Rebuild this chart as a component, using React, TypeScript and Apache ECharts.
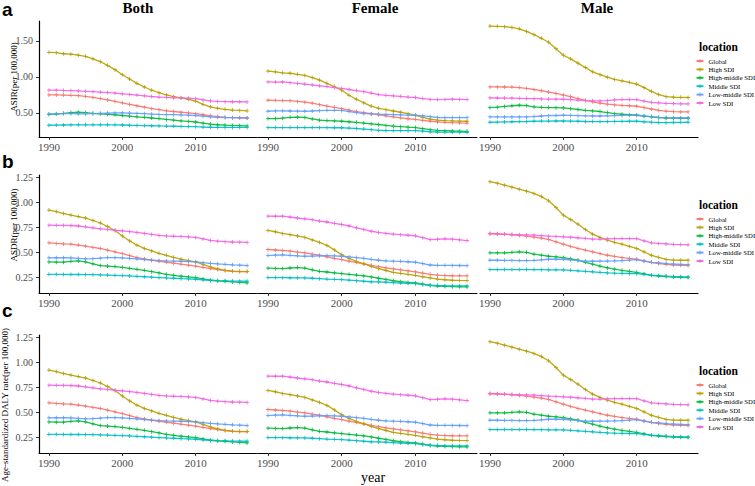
import React, { useEffect, useRef } from "react";
import * as echarts from "echarts";

const years = [1990,1991,1992,1993,1994,1995,1996,1997,1998,1999,2000,2001,2002,2003,2004,2005,2006,2007,2008,2009,2010,2011,2012,2013,2014,2015,2016,2017];
const locations = ["Global", "High SDI", "High-middle SDI", "Middle SDI", "Low-middle SDI", "Low SDI"];
const colors = ["#F8766D", "#B79F00", "#00BA38", "#00BFC4", "#619CFF", "#F564E3"];
const columnTitles = ["Both", "Female", "Male"];
const rowLetters = ["a", "b", "c"];
const rowTitles = ["ASIR(per 100,000)", "ASDR(per 100,000)", "Age-standardized DALY rate(per 100,000)"];
const xTicks = [1990, 2000, 2010];
const yTicksA = [0.5, 1.0, 1.5];
const yTicksB = [0.25, 0.5, 0.75, 1.0, 1.25];

// ASIR, order: Global, High SDI, High-middle SDI, Middle SDI, Low-middle SDI, Low SDI
const asirBoth = [
  [0.75,0.75,0.748,0.745,0.74,0.73,0.715,0.70,0.68,0.66,0.64,0.62,0.60,0.58,0.56,0.545,0.53,0.52,0.51,0.50,0.49,0.475,0.46,0.45,0.44,0.435,0.432,0.43],
  [1.34,1.335,1.32,1.315,1.30,1.285,1.25,1.21,1.16,1.10,1.03,0.97,0.91,0.86,0.815,0.78,0.75,0.725,0.71,0.69,0.665,0.62,0.585,0.565,0.55,0.54,0.535,0.53],
  [0.48,0.485,0.495,0.505,0.51,0.505,0.495,0.488,0.482,0.475,0.465,0.455,0.447,0.44,0.43,0.422,0.41,0.40,0.39,0.383,0.375,0.36,0.345,0.337,0.332,0.328,0.325,0.322],
  [0.33,0.332,0.333,0.334,0.335,0.335,0.336,0.336,0.336,0.335,0.333,0.33,0.328,0.325,0.323,0.32,0.318,0.316,0.314,0.312,0.31,0.305,0.302,0.30,0.30,0.30,0.30,0.30],
  [0.486,0.488,0.49,0.49,0.488,0.487,0.49,0.495,0.498,0.50,0.50,0.498,0.494,0.49,0.485,0.48,0.478,0.476,0.473,0.47,0.465,0.455,0.447,0.44,0.437,0.435,0.432,0.43],
  [0.815,0.815,0.812,0.81,0.805,0.80,0.795,0.79,0.783,0.775,0.765,0.757,0.748,0.738,0.728,0.72,0.715,0.71,0.708,0.705,0.70,0.68,0.667,0.66,0.657,0.655,0.655,0.653],
];
const asirFemale = [
  [0.676,0.675,0.672,0.67,0.66,0.65,0.635,0.615,0.595,0.578,0.56,0.54,0.52,0.505,0.49,0.475,0.46,0.447,0.433,0.42,0.41,0.398,0.385,0.376,0.37,0.365,0.362,0.36],
  [1.08,1.07,1.056,1.05,1.035,1.02,0.99,0.955,0.91,0.865,0.815,0.745,0.69,0.64,0.595,0.565,0.545,0.527,0.51,0.49,0.468,0.44,0.415,0.40,0.393,0.39,0.387,0.385],
  [0.422,0.423,0.428,0.44,0.442,0.438,0.418,0.40,0.395,0.39,0.385,0.378,0.37,0.36,0.35,0.34,0.327,0.318,0.31,0.303,0.297,0.283,0.268,0.26,0.255,0.25,0.248,0.246],
  [0.297,0.297,0.297,0.297,0.297,0.297,0.297,0.296,0.296,0.295,0.295,0.29,0.285,0.277,0.268,0.26,0.257,0.256,0.256,0.255,0.255,0.248,0.24,0.236,0.235,0.234,0.234,0.233],
  [0.524,0.528,0.53,0.527,0.525,0.524,0.527,0.532,0.537,0.537,0.535,0.52,0.505,0.492,0.487,0.483,0.48,0.477,0.474,0.47,0.468,0.46,0.448,0.437,0.436,0.436,0.436,0.436],
  [0.93,0.928,0.93,0.92,0.91,0.90,0.888,0.876,0.865,0.85,0.84,0.825,0.81,0.795,0.775,0.755,0.745,0.737,0.73,0.72,0.714,0.70,0.688,0.685,0.687,0.69,0.688,0.686],
];
const asirMale = [
  [0.861,0.861,0.86,0.858,0.852,0.84,0.825,0.808,0.79,0.77,0.748,0.725,0.70,0.675,0.655,0.635,0.622,0.612,0.605,0.60,0.593,0.575,0.555,0.537,0.525,0.518,0.515,0.514],
  [1.704,1.70,1.695,1.685,1.665,1.63,1.585,1.535,1.48,1.39,1.30,1.25,1.19,1.13,1.07,1.03,0.995,0.965,0.945,0.925,0.90,0.85,0.80,0.755,0.725,0.718,0.716,0.714],
  [0.575,0.58,0.59,0.60,0.607,0.603,0.585,0.578,0.575,0.573,0.57,0.56,0.548,0.537,0.528,0.52,0.505,0.49,0.482,0.475,0.468,0.455,0.445,0.437,0.43,0.428,0.427,0.427],
  [0.371,0.373,0.376,0.378,0.38,0.382,0.385,0.387,0.388,0.389,0.389,0.387,0.385,0.382,0.38,0.38,0.381,0.383,0.384,0.385,0.385,0.378,0.372,0.368,0.366,0.368,0.37,0.371],
  [0.445,0.445,0.445,0.445,0.445,0.445,0.45,0.458,0.462,0.465,0.468,0.466,0.463,0.46,0.458,0.458,0.46,0.463,0.466,0.47,0.472,0.46,0.45,0.44,0.435,0.432,0.43,0.43],
  [0.708,0.707,0.706,0.705,0.703,0.70,0.698,0.695,0.693,0.691,0.69,0.685,0.678,0.672,0.668,0.667,0.672,0.68,0.685,0.686,0.686,0.665,0.648,0.64,0.632,0.628,0.626,0.625],
];

// ASDR
const asdrBoth = [
  [0.596,0.59,0.585,0.582,0.573,0.562,0.55,0.539,0.522,0.505,0.488,0.468,0.448,0.435,0.422,0.411,0.401,0.392,0.381,0.371,0.361,0.35,0.338,0.327,0.318,0.312,0.309,0.307],
  [0.925,0.91,0.89,0.875,0.86,0.845,0.82,0.795,0.76,0.72,0.665,0.615,0.572,0.54,0.515,0.49,0.47,0.45,0.431,0.418,0.404,0.38,0.354,0.335,0.32,0.31,0.307,0.307],
  [0.404,0.402,0.402,0.41,0.414,0.405,0.385,0.367,0.362,0.357,0.35,0.34,0.33,0.32,0.306,0.294,0.28,0.27,0.26,0.253,0.247,0.233,0.22,0.214,0.21,0.203,0.198,0.193],
  [0.28,0.28,0.279,0.278,0.278,0.277,0.276,0.274,0.272,0.27,0.267,0.263,0.259,0.255,0.251,0.247,0.243,0.24,0.236,0.233,0.23,0.225,0.22,0.216,0.214,0.212,0.211,0.21],
  [0.445,0.446,0.446,0.445,0.44,0.435,0.437,0.442,0.448,0.447,0.445,0.44,0.434,0.428,0.422,0.418,0.415,0.413,0.411,0.408,0.404,0.397,0.39,0.384,0.38,0.375,0.371,0.367],
  [0.773,0.772,0.771,0.77,0.765,0.757,0.747,0.737,0.73,0.722,0.716,0.708,0.70,0.69,0.68,0.67,0.665,0.662,0.66,0.655,0.65,0.635,0.62,0.612,0.607,0.604,0.602,0.60],
];
const asdrFemale = [
  [0.529,0.524,0.519,0.512,0.503,0.495,0.482,0.472,0.455,0.44,0.428,0.412,0.398,0.385,0.37,0.356,0.345,0.335,0.325,0.315,0.304,0.292,0.28,0.272,0.267,0.265,0.264,0.263],
  [0.72,0.707,0.69,0.678,0.665,0.65,0.625,0.60,0.57,0.525,0.476,0.44,0.41,0.385,0.36,0.336,0.318,0.30,0.29,0.28,0.27,0.255,0.243,0.232,0.225,0.22,0.218,0.217],
  [0.341,0.339,0.337,0.343,0.347,0.342,0.325,0.31,0.303,0.295,0.287,0.28,0.272,0.263,0.253,0.24,0.228,0.215,0.205,0.198,0.193,0.18,0.168,0.162,0.158,0.156,0.154,0.153],
  [0.247,0.247,0.246,0.245,0.244,0.243,0.24,0.236,0.232,0.229,0.227,0.222,0.216,0.21,0.205,0.203,0.20,0.196,0.192,0.189,0.186,0.178,0.17,0.167,0.165,0.164,0.163,0.163],
  [0.468,0.472,0.475,0.47,0.465,0.461,0.463,0.466,0.468,0.465,0.461,0.455,0.448,0.44,0.43,0.421,0.415,0.412,0.41,0.406,0.401,0.388,0.373,0.37,0.37,0.369,0.368,0.367],
  [0.864,0.863,0.864,0.855,0.845,0.837,0.828,0.814,0.805,0.792,0.78,0.765,0.747,0.73,0.712,0.70,0.69,0.683,0.678,0.672,0.666,0.648,0.629,0.632,0.636,0.633,0.626,0.619],
];
const asdrMale = [
  [0.687,0.684,0.681,0.677,0.67,0.663,0.653,0.643,0.63,0.606,0.582,0.56,0.54,0.522,0.505,0.488,0.471,0.46,0.448,0.44,0.431,0.415,0.40,0.388,0.38,0.373,0.37,0.367],
  [1.21,1.195,1.175,1.155,1.135,1.115,1.092,1.06,1.018,0.95,0.874,0.83,0.783,0.73,0.683,0.65,0.622,0.60,0.582,0.56,0.539,0.505,0.471,0.45,0.43,0.423,0.421,0.421],
  [0.495,0.494,0.495,0.50,0.505,0.50,0.482,0.472,0.461,0.455,0.448,0.435,0.421,0.40,0.381,0.362,0.344,0.332,0.32,0.31,0.30,0.285,0.27,0.262,0.257,0.252,0.249,0.247],
  [0.327,0.327,0.327,0.327,0.327,0.327,0.327,0.326,0.325,0.325,0.324,0.32,0.315,0.31,0.305,0.30,0.294,0.291,0.289,0.288,0.287,0.28,0.272,0.267,0.262,0.258,0.255,0.253],
  [0.421,0.421,0.42,0.419,0.418,0.418,0.42,0.425,0.431,0.431,0.431,0.425,0.418,0.413,0.411,0.412,0.413,0.414,0.418,0.423,0.428,0.412,0.40,0.394,0.388,0.383,0.38,0.377],
  [0.69,0.688,0.684,0.68,0.677,0.675,0.673,0.668,0.663,0.66,0.656,0.652,0.646,0.64,0.633,0.634,0.636,0.639,0.639,0.639,0.639,0.615,0.596,0.59,0.585,0.58,0.578,0.576],
];

// Age-standardized DALY rate (drawn identical to ASDR in the source figure)
const dalyBoth = asdrBoth;
const dalyFemale = asdrFemale;
const dalyMale = asdrMale;

const panels = [
  [asirBoth, asirFemale, asirMale],
  [asdrBoth, asdrFemale, asdrMale],
  [dalyBoth, dalyFemale, dalyMale],
];

const SERIF = "Liberation Serif";
const colLayout = [
  { left: 39, width: 218 },
  { left: 258, width: 219 },
  { left: 480, width: 218 },
];
const rowLayout = [
  { top: 21, height: 116, min: 0.167, max: 1.774, ticks: yTicksA },
  { top: 175, height: 118, min: 0.092, max: 1.277, ticks: yTicksB },
  { top: 335, height: 118, min: 0.092, max: 1.277, ticks: yTicksB },
];
const legendTops = [47, 205, 371];
const plusSymbol = "path://M2,0h1v2h2v1h-2v2h-1v-2h-2v-1h2z";

export default function App() {
  const ref = useRef<HTMLDivElement>(null);
  useEffect(() => {
    if (!ref.current) return;
    const chart = echarts.init(ref.current, undefined, { renderer: "svg" });
    const grid: any[] = [];
    const xAxis: any[] = [];
    const yAxis: any[] = [];
    const series: any[] = [];
    const legend: any[] = [];
    const graphic: any[] = [];

    rowLayout.forEach((row, r) => {
      colLayout.forEach((col, c) => {
        const idx = r * 3 + c;
        grid.push({ left: col.left, top: row.top, width: col.width, height: row.height });
        xAxis.push({
          type: "value",
          gridIndex: idx,
          min: 1988.65,
          max: 2018.35,
          axisLine: { show: true, lineStyle: { color: "#000", width: 1.2 } },
          axisTick: { show: true, customValues: xTicks, length: 3, lineStyle: { color: "#333" } },
          axisLabel: {
            customValues: xTicks,
            fontSize: 11,
            color: "#4d4d4d",
            fontFamily: SERIF,
            margin: 4,
            formatter: (v: number) => String(v),
          },
          splitLine: { show: false },
        });
        yAxis.push({
          type: "value",
          gridIndex: idx,
          min: row.min,
          max: row.max,
          show: c === 0,
          axisLine: { show: true, lineStyle: { color: "#000", width: 1.2 } },
          axisTick: { show: true, customValues: row.ticks, length: 3, lineStyle: { color: "#333" } },
          axisLabel: {
            customValues: row.ticks,
            fontSize: 10,
            color: "#4d4d4d",
            fontFamily: SERIF,
            margin: 6,
            formatter: (v: number) => v.toFixed(2),
          },
          splitLine: { show: false },
        });
        const data = panels[r][c];
        locations.forEach((loc, s) => {
          series.push({
            type: "line",
            name: loc,
            xAxisIndex: idx,
            yAxisIndex: idx,
            data: years.map((yr, i) => [yr, data[s][i]]),
            symbol: plusSymbol,
            symbolSize: 4,
            showSymbol: true,
            lineStyle: { width: 1.3, color: colors[s], opacity: 0.9 },
            itemStyle: { color: colors[s] },
            emphasis: { disabled: true },
          });
        });
      });

      legend.push({
        orient: "vertical",
        left: 695.5,
        top: legendTops[r] + 10,
        itemWidth: 7,
        itemHeight: 5,
        itemGap: 0.4,
        padding: 0,
        data: locations,
        textStyle: { fontSize: 6.7, lineHeight: 8, fontFamily: SERIF, color: "#000" },
      });
      graphic.push({
        type: "text",
        x: 699,
        y: legendTops[r],
        style: {
          text: "location",
          font: `bold 11.5px "${SERIF}"`,
          fill: "#000",
          textVerticalAlign: "middle",
        },
      });
      graphic.push({
        type: "text",
        x: 2,
        y: [9.5, 161, 310][r],
        style: {
          text: rowLetters[r],
          font: 'bold 19px "Liberation Sans"',
          fill: "#000",
          textVerticalAlign: "middle",
        },
      });
    });

    const yTitlePos = [
      { x: 13.5, y: 77 },
      { x: 13.5, y: 225 },
      { x: 5, y: 405 },
    ];
    yTitlePos.forEach((p, r) => {
      graphic.push({
        type: "text",
        x: p.x,
        y: p.y,
        rotation: Math.PI / 2,
        style: {
          text: rowTitles[r],
          font: `9px "${SERIF}"`,
          fill: "#000",
          textAlign: "center",
          textVerticalAlign: "middle",
        },
      });
    });

    [138, 375, 597].forEach((x, c) => {
      graphic.push({
        type: "text",
        x,
        y: 8,
        style: {
          text: columnTitles[c],
          font: `bold 15px "${SERIF}"`,
          fill: "#000",
          textAlign: "center",
          textVerticalAlign: "middle",
        },
      });
    });

    graphic.push({
      type: "text",
      x: 373,
      y: 477,
      style: { text: "year", font: `14px "${SERIF}"`, fill: "#000", textAlign: "center", textVerticalAlign: "middle" },
    });

    chart.setOption({
      animation: false,
      backgroundColor: "#fff",
      grid,
      xAxis,
      yAxis,
      series,
      legend,
      graphic,
    });
    return () => chart.dispose();
  }, []);
  return <div ref={ref} style={{ position: "fixed", left: 0, top: 0, width: 755, height: 486 }} />;
}
